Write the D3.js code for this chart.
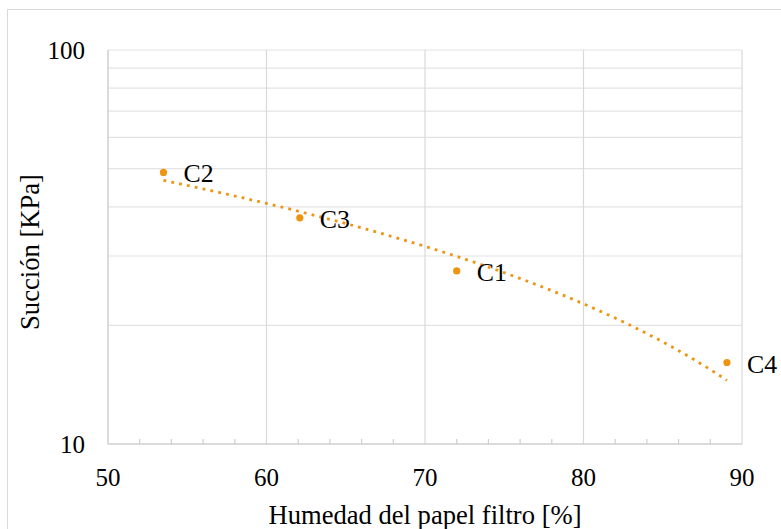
<!DOCTYPE html>
<html>
<head>
<meta charset="utf-8">
<script src="https://cdn.jsdelivr.net/npm/d3@7"></script>
<style>
  html, body { margin: 0; padding: 0; background: #fff; }
  svg { display: block; }
</style>
</head>
<body>
<script>
// Data
const labels = ["C1", "C2", "C3", "C4"];
const humedad = [72, 53.5, 62.1, 89.05];
const succion = [27.5, 48.9, 37.5, 16.1];
const xTicks = [50, 60, 70, 80, 90];
const xMinorTicks = [52, 54, 56, 58, 62, 64, 66, 68, 72, 74, 76, 78, 82, 84, 86, 88];
const yTicks = [10, 100];
const yGrid = [20, 30, 40, 50, 60, 70, 80, 90];
const xTitle = "Humedad del papel filtro [%]";
const yTitle = "Succión [KPa]";

const W = 781, H = 529;
const margin = { left: 108, right: 39, top: 50, bottom: 85 };
const color = "#EE9411";
const FONT = "'Liberation Serif', 'DejaVu Serif', serif";

const svg = d3.select("body").append("svg").attr("width", W).attr("height", H)
  .attr("font-family", FONT);

// outer frame (chart area border)
svg.append("path")
  .attr("d", `M7.5,${H + 2} L7.5,9.5 L${W + 2},9.5`)
  .attr("fill", "none").attr("stroke", "#d9d9d9").attr("stroke-width", 1);

const x = d3.scaleLinear().domain([50, 90]).range([margin.left, W - margin.right]);
const y = d3.scaleLog().domain([10, 100]).range([H - margin.bottom, margin.top]);

const g = svg.append("g");

// horizontal gridlines
g.selectAll(".hg").data(yGrid.concat([100])).enter().append("line")
  .attr("x1", x(50)).attr("x2", x(90))
  .attr("y1", d => y(d)).attr("y2", d => y(d))
  .attr("stroke", "#e3e3e3").attr("stroke-width", 1.2);

// vertical gridlines
g.selectAll(".vg").data(xTicks.slice(1)).enter().append("line")
  .attr("x1", d => x(d)).attr("x2", d => x(d))
  .attr("y1", y(10)).attr("y2", y(100))
  .attr("stroke", "#d9d9d9").attr("stroke-width", 1.2);

// axes lines
g.append("line").attr("x1", x(50)).attr("x2", x(50)).attr("y1", y(10)).attr("y2", y(100))
  .attr("stroke", "#cfcfcf").attr("stroke-width", 1.5);
g.append("line").attr("x1", x(50)).attr("x2", x(90)).attr("y1", y(10)).attr("y2", y(10))
  .attr("stroke", "#cfcfcf").attr("stroke-width", 1.5);

// minor ticks on x axis
g.selectAll(".mt").data(xMinorTicks).enter().append("line")
  .attr("x1", d => x(d)).attr("x2", d => x(d))
  .attr("y1", y(10)).attr("y2", y(10) - 5)
  .attr("stroke", "#cfcfcf").attr("stroke-width", 1.2);

const txt = (sel, size) => sel.attr("font-family", FONT).attr("font-size", size).attr("fill", "#000");

// x tick labels
g.selectAll(".xl").data(xTicks).enter().append("text")
  .call(txt, 25)
  .attr("x", d => x(d)).attr("y", y(10) + 42)
  .attr("text-anchor", "middle")
  .text(d => d);

// y tick labels
g.selectAll(".yl").data(yTicks).enter().append("text")
  .call(txt, 25)
  .attr("x", x(50) - 23).attr("y", d => y(d) + 9)
  .attr("text-anchor", "end")
  .text(d => d);

// axis titles
svg.append("text").call(txt, 26.6).attr("x", (x(50) + x(90)) / 2).attr("y", 524)
  .attr("text-anchor", "middle").text(xTitle);
svg.append("text").call(txt, 26.6)
  .attr("transform", `translate(39,${(y(10) + y(100)) / 2 + 5}) rotate(-90)`)
  .attr("text-anchor", "middle").text(yTitle);

// linear trendline (least squares fit of data)
const mx = d3.mean(humedad), my = d3.mean(succion);
const sxy = d3.sum(humedad.map((v, i) => (v - mx) * (succion[i] - my)));
const sxx = d3.sum(humedad.map(v => (v - mx) * (v - mx)));
const slope = sxy / sxx, intercept = my - slope * mx;
const x0 = d3.min(humedad), x1 = d3.max(humedad);
const samples = d3.range(0, 101).map(i => x0 + (x1 - x0) * i / 100);
const line = d3.line().x(d => x(d)).y(d => y(intercept + slope * d));
g.append("path").datum(samples).attr("d", line)
  .attr("fill", "none").attr("stroke", color).attr("stroke-width", 2.8)
  .attr("stroke-dasharray", "2.8 5.2");

// points
const pts = labels.map((l, i) => ({ l, h: humedad[i], s: succion[i] }));
g.selectAll(".pt").data(pts).enter().append("circle")
  .attr("cx", d => x(d.h)).attr("cy", d => y(d.s)).attr("r", 3.6)
  .attr("fill", color);

// data labels
g.selectAll(".dl").data(pts).enter().append("text")
  .call(txt, 25.8)
  .attr("x", d => x(d.h) + 20).attr("y", d => y(d.s) + 10)
  .text(d => d.l);
</script>
</body>
</html>
